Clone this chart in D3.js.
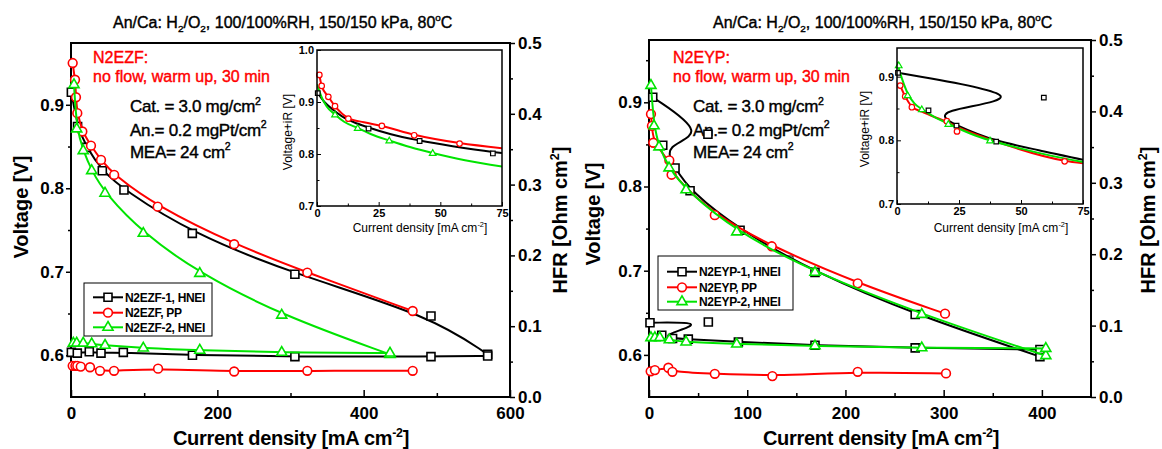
<!DOCTYPE html>
<html>
<head>
<meta charset="utf-8">
<script src="https://d3js.org/d3.v7.min.js"></script>
<style>
body { margin:0; background:#fff; }
svg { font-family: "Liberation Sans", Arial, sans-serif; }
.heavy { stroke-width: 0.4px; }
</style>
</head>
<body>
<script>

// ---- N2EZF (left) : [current mA/cm2, value]
var ezf1Pol = [[0.5,0.915],[9,0.874],[21,0.849],[42.8,0.821],[72.4,0.798],[165.8,0.746],[306,0.697],[492,0.647],[569.5,0.601]];
var ezf1Hfr = [[0.5,0.063],[8.6,0.062],[25,0.064],[41,0.062],[71.5,0.063],[166,0.059],[306,0.057],[492,0.057],[569.5,0.058]];
var ezfPpPol = [[2.3,0.950],[5.5,0.930],[6.8,0.909],[8.6,0.890],[15.5,0.868],[27.3,0.851],[41,0.834],[59,0.816],[118.5,0.778],[223,0.733],[323,0.699],[467,0.653]];
var ezfPpHfr = [[2.3,0.044],[6,0.044],[8.6,0.044],[13.3,0.043],[26,0.042],[39.6,0.037],[58.8,0.037],[119,0.040],[223,0.036],[323,0.037],[467,0.037]];
var ezf2Pol = [[4.1,0.924],[7.8,0.871],[16.7,0.845],[28.3,0.821],[46.5,0.794],[98.8,0.746],[176,0.698],[288,0.648],[436,0.601]];
var ezf2Hfr = [[3.2,0.076],[7.8,0.076],[16.7,0.076],[28.3,0.075],[46.5,0.073],[98.8,0.069],[176,0.066],[288,0.063],[436,0.062]];

// inset (Voltage+iR)
var ezf1Inset = [[0.3,0.917],[20.9,0.849],[41.6,0.825],[71.3,0.801]];
var ezfPpInset = [[0.95,0.952],[1.9,0.931],[4.6,0.910],[7.3,0.892],[12.7,0.868],[26.3,0.854],[39.4,0.836],[57.8,0.820]];
var ezf2Inset = [[7.3,0.875],[16.5,0.849],[29.3,0.825],[46.9,0.801]];
var ezf1InsetLine = [[0,0.919],[3,0.900],[6,0.887],[10,0.873],[15,0.861],[20.9,0.851],[30,0.838],[41.6,0.826],[55,0.815],[71.3,0.804],[75,0.802]];
var ezfPpInsetLine = [[0.95,0.952],[1.9,0.931],[4.6,0.910],[7.3,0.892],[12.7,0.869],[19,0.861],[26.3,0.854],[39.4,0.837],[57.8,0.821],[75,0.811]];
var ezf2InsetLine = [[0,0.934],[2,0.908],[4,0.891],[7.3,0.876],[11,0.862],[16.5,0.850],[22,0.838],[29.3,0.826],[38,0.813],[46.9,0.802],[60,0.788],[75,0.776]];

// ---- N2EYP (right)
var eyp1Pol = [[3.8,0.906],[60,0.862],[14,0.849],[26.5,0.822],[41.8,0.795],[92.7,0.748],[169,0.698],[271,0.648],[398,0.598]];
var eyp1Hfr = [[1,0.104],[60.4,0.105],[13,0.0865],[24,0.082],[40,0.081],[91,0.077],[169,0.0725],[271,0.0688],[398,0.0665]];
var eypPpPol = [[2,0.886],[3,0.872],[4.4,0.852],[20.7,0.831],[23,0.814],[67,0.766],[125,0.729],[212.5,0.685],[301.4,0.649]];
var eypPpHfr = [[1.7,0.036],[6,0.0377],[19.7,0.041],[23.8,0.0353],[67,0.0325],[125.6,0.0293],[212.5,0.0353],[302.4,0.033]];
var eyp2Pol = [[2,0.920],[5.1,0.872],[10.2,0.847],[20.4,0.822],[37.7,0.796],[89.3,0.746],[169,0.698],[277.7,0.648],[404,0.599]];
var eyp2Hfr = [[2,0.083],[6,0.083],[11,0.083],[20.7,0.080],[37.7,0.077],[89.3,0.074],[169,0.0716],[277.7,0.0688],[404,0.068]];

var eyp1Inset = [[0.4,0.906],[12.7,0.847],[24,0.823],[40,0.798],[59.2,0.867]];
var eypPpInset = [[1.3,0.886],[3.3,0.869],[6,0.852],[20.1,0.830],[24.2,0.814],[67.6,0.767]];
var eyp2Inset = [[0.7,0.917],[4.3,0.870],[10,0.848],[20.7,0.825],[37.5,0.799]];
var eyp1InsetLine = [[0.4,0.906],[59.2,0.867],[12.7,0.847],[24,0.823],[40,0.798],[57,0.785],[75,0.769],[95,0.755]];
var eypPpInsetLine = [[1.3,0.886],[3.3,0.869],[6,0.853],[10,0.845],[20,0.829],[25,0.820],[40,0.798],[67.6,0.768],[75,0.764]];
var eyp2InsetLine = [[0,0.923],[2,0.897],[4.3,0.874],[7,0.858],[10,0.849],[15,0.837],[20.7,0.826],[30,0.810],[37.5,0.800],[50,0.787],[62,0.776],[75,0.766]];

// labels / ticks
var leftLegend = ["N2EZF-1, HNEI", "N2EZF, PP", "N2EZF-2, HNEI"];
var rightLegend = ["N2EYP-1, HNEI", "N2EYP, PP", "N2EYP-2, HNEI"];
var voltTicks = [0.6, 0.7, 0.8, 0.9];
var voltMinor = [0.65, 0.75, 0.85, 0.95];
var hfrTicks = [0, 0.1, 0.2, 0.3, 0.4, 0.5];
var hfrMinor = [0.05, 0.15, 0.25, 0.35, 0.45];
var insetXTicks = [0, 25, 50, 75];
var insetXMinor = [12.5, 37.5, 62.5];

var black = "#000", red = "#ff0000", green = "#00e400";

var svg = d3.select("body").append("svg")
    .attr("width", 1162)
    .attr("height", 449);

function richText(g, x, y, parts, size) {
    var t = g.append("text").attr("x", x).attr("y", y).style("font-size", size + "px");
    var shift = 0;
    parts.forEach(function(p){
        var s = typeof p === "string" ? [p, null] : p;
        var target = s[1] === "sup" ? -0.42 * size : (s[1] === "sub" ? 0.28 * size : 0);
        var ts = t.append("tspan").text(s[0]).attr("dy", target - shift);
        if (s[1]) ts.style("font-size", (size * 0.62) + "px");
        shift = target;
    });
    return t;
}

// regular text drawn a bit heavier, like the scanned original
function heavy(t, color) {
    return t.attr("fill", color).attr("stroke", color).attr("class", "heavy");
}

function styleAxis(sel, size, weight) {
    sel.attr("font-family", null).attr("font-size", null);
    sel.select(".domain").remove();
    sel.selectAll("line").attr("stroke", "#000").attr("stroke-width", 1.5);
    sel.selectAll("text").attr("fill", "#000")
        .style("font-size", size + "px")
        .style("font-weight", weight);
}

function marker(g, data, xs, ys, shape, color, size) {
    var sym = d3.symbol().type(shape).size(size);
    g.selectAll(null).data(data).enter().append("path")
        .attr("d", sym)
        .attr("transform", function(d){ return "translate(" + xs(d[0]) + "," + ys(d[1]) + ")"; })
        .attr("fill", "#fff")
        .attr("stroke", color)
        .attr("stroke-width", 1.6);
}

function curve(g, data, xs, ys, color, kind, width) {
    var line = d3.line()
        .x(function(d){ return xs(d[0]); })
        .y(function(d){ return ys(d[1]); })
        .curve(kind);
    g.append("path").datum(data)
        .attr("d", line)
        .attr("fill", "none")
        .attr("stroke", color)
        .attr("stroke-width", width);
}

function drawPanel(p, idx) {
    var g = svg.append("g");
    var x = d3.scaleLinear().domain([0, p.xMax]).range([p.left, p.right]);
    var yV = d3.scaleLinear().domain([0.55, 0.974]).range([p.bottom, p.top]);
    var yR = d3.scaleLinear().domain([0, 0.5]).range([p.bottom, p.top]);

    // title
    heavy(richText(g, p.titleX, 28, ["An/Ca: H", ["2","sub"], "/O", ["2","sub"], ", 100/100%RH, 150/150 kPa, 80", ["o","sup"], "C"], 16), "#000");

    // axes
    g.append("g").attr("transform", "translate(0," + p.bottom + ")")
        .call(d3.axisBottom(x).tickValues(p.xMinor).tickSizeInner(-4).tickSizeOuter(0).tickFormat(""))
        .call(styleAxis, 17, "bold");
    g.append("g").attr("transform", "translate(0," + p.bottom + ")")
        .call(d3.axisBottom(x).tickValues(p.xMajor).tickSizeInner(-7).tickSizeOuter(0).tickPadding(10).tickFormat(d3.format("d")))
        .call(styleAxis, 17, "bold");
    g.append("g").attr("transform", "translate(" + p.left + ",0)")
        .call(d3.axisLeft(yV).tickValues(voltMinor).tickSizeInner(3).tickSizeOuter(0).tickFormat(""))
        .call(styleAxis, 17, "bold");
    g.append("g").attr("transform", "translate(" + p.left + ",0)")
        .call(d3.axisLeft(yV).tickValues(voltTicks).tickSizeInner(5).tickSizeOuter(0).tickPadding(2).tickFormat(d3.format(".1f")))
        .call(styleAxis, 17, "bold");
    g.append("g").attr("transform", "translate(" + p.right + ",0)")
        .call(d3.axisRight(yR).tickValues(hfrMinor).tickSizeInner(3).tickSizeOuter(0).tickFormat(""))
        .call(styleAxis, 17, "bold");
    g.append("g").attr("transform", "translate(" + p.right + ",0)")
        .call(d3.axisRight(yR).tickValues(hfrTicks).tickSizeInner(5).tickSizeOuter(0).tickPadding(3).tickFormat(d3.format(".1f")))
        .call(styleAxis, 17, "bold");

    g.append("rect")
        .attr("x", p.left).attr("y", p.top)
        .attr("width", p.right - p.left).attr("height", p.bottom - p.top)
        .attr("fill", "none").attr("stroke", "#000").attr("stroke-width", 2);

    // axis titles
    richText(g, 0, 0, ["Voltage [V]"], 20)
        .attr("transform", "translate(" + p.vLabelX + "," + p.vLabelY + ") rotate(-90)")
        .attr("text-anchor", "middle").style("font-weight", "bold");
    richText(g, 0, 0, ["HFR [Ohm cm", ["2","sup"], "]"], 20)
        .attr("transform", "translate(" + p.rLabelX + ",220) rotate(-90)")
        .attr("text-anchor", "middle").style("font-weight", "bold");
    richText(g, p.xLabelX, 445, ["Current density [mA cm", ["-2","sup"], "]"], 20)
        .attr("text-anchor", "middle").style("font-weight", "bold").style("letter-spacing", "-0.3px");

    // annotation
    heavy(richText(g, p.noteX, 63, [p.name + ":"], 16), red);
    heavy(richText(g, p.noteX, 82, ["no flow, warm up, 30 min"], 16), red);
    heavy(richText(g, p.catX, 112, ["Cat. = 3.0 mg/cm", ["2","sup"]], 17), "#000").style("letter-spacing", "-0.3px");
    heavy(richText(g, p.catX, 135.5, ["An.= 0.2 mgPt/cm", ["2","sup"]], 17), "#000").style("letter-spacing", "-0.3px");
    heavy(richText(g, p.catX, 157.5, ["MEA= 24 cm", ["2","sup"]], 17), "#000").style("letter-spacing", "-0.3px");

    // legend
    var lg = g.append("g");
    lg.append("rect")
        .attr("x", p.legend.x).attr("y", p.legend.y)
        .attr("width", p.legend.w).attr("height", p.legend.h)
        .attr("fill", "#fff").attr("stroke", "#000").attr("stroke-width", 1);

    // data
    var shapes = [d3.symbolSquare, d3.symbolCircle, d3.symbolTriangle];
    var sizes = [64, 60, 44];
    var insetSizes = [21, 24, 19];
    var colors = [black, red, green];

    p.series.forEach(function(s, i){
        curve(g, s.pol, x, yV, colors[i], d3.curveBasis, 2);
        curve(g, s.hfr, x, yR, colors[i], d3.curveBasis, 2);
        marker(g, s.pol, x, yV, shapes[i], colors[i], sizes[i]);
        marker(g, s.hfr, x, yR, shapes[i], colors[i], sizes[i]);

        var ly = p.legend.rows[i];
        lg.append("line")
            .attr("x1", p.legend.x + 9).attr("x2", p.legend.x + 39)
            .attr("y1", ly).attr("y2", ly)
            .attr("stroke", colors[i]).attr("stroke-width", 2);
        marker(lg, [[0, 0]], function(){ return p.legend.x + 24; }, function(){ return ly; }, shapes[i], colors[i], sizes[i]);
        lg.append("text")
            .attr("x", p.legend.x + 41).attr("y", ly + 4.5)
            .style("font-size", "12px").style("font-weight", "bold")
            .style("letter-spacing", "-0.3px")
            .text(p.legendText[i]);
    });

    // inset
    var ins = p.inset;
    var ig = g.append("g");
    var ix = d3.scaleLinear().domain([0, 75]).range([ins.left, ins.right]);
    var iy = d3.scaleLinear().domain([0.7, ins.yMax]).range([ins.bottom, ins.top]);

    ig.append("rect")
        .attr("x", ins.left).attr("y", ins.top)
        .attr("width", ins.right - ins.left).attr("height", ins.bottom - ins.top)
        .attr("fill", "#fff");

    ig.append("clipPath").attr("id", "clipInset" + idx)
        .append("rect")
        .attr("x", ins.left).attr("y", ins.top)
        .attr("width", ins.right - ins.left).attr("height", ins.bottom - ins.top);

    ig.append("g").attr("transform", "translate(0," + ins.bottom + ")")
        .call(d3.axisBottom(ix).tickValues(insetXMinor).tickSizeInner(-2.5).tickSizeOuter(0).tickFormat(""))
        .call(styleAxis, 11, "bold");
    ig.append("g").attr("transform", "translate(0," + ins.bottom + ")")
        .call(d3.axisBottom(ix).tickValues(insetXTicks).tickSizeInner(-4).tickSizeOuter(0).tickPadding(3).tickFormat(d3.format("d")))
        .call(styleAxis, 11, "bold");
    ig.append("g").attr("transform", "translate(" + ins.left + ",0)")
        .call(d3.axisLeft(iy).tickValues(ins.yMinor).tickSizeInner(-2.5).tickSizeOuter(0).tickFormat(""))
        .call(styleAxis, 11, "bold");
    ig.append("g").attr("transform", "translate(" + ins.left + ",0)")
        .call(d3.axisLeft(iy).tickValues(ins.yTicks).tickSizeInner(-4).tickSizeOuter(0).tickPadding(3).tickFormat(d3.format(".1f")))
        .call(styleAxis, 11, "bold");
    ig.selectAll("line").attr("stroke-width", 1);

    var clipped = ig.append("g").attr("clip-path", "url(#clipInset" + idx + ")");
    p.series.forEach(function(s, i){
        curve(clipped, s.insetLine, ix, iy, colors[i], s.insetCurve, 2);
    });
    p.series.forEach(function(s, i){
        marker(ig, s.inset, ix, iy, shapes[i], colors[i], insetSizes[i]);
    });
    ig.selectAll("path").filter(function(){ return d3.select(this).attr("fill") === "#fff"; })
        .attr("stroke-width", 1.2);

    ig.append("rect")
        .attr("x", ins.left).attr("y", ins.top)
        .attr("width", ins.right - ins.left).attr("height", ins.bottom - ins.top)
        .attr("fill", "none").attr("stroke", "#000").attr("stroke-width", 1.5);

    richText(ig, 0, 0, ["Voltage+iR [V]"], 12)
        .attr("transform", "translate(" + ins.yLabelX + "," + ins.yLabelY + ") rotate(-90)")
        .attr("text-anchor", "middle");
    richText(ig, ins.xLabelX, 232, ["Current density [mA cm", ["-2","sup"], "]"], 12)
        .attr("text-anchor", "middle");
}

drawPanel({
    name: "N2EZF", left: 71, right: 510, top: 43, bottom: 397,
    xMax: 600, xMajor: [0, 200, 400, 600], xMinor: [100, 300, 500],
    titleX: 113, noteX: 93, catX: 130,
    vLabelX: 28, vLabelY: 207, rLabelX: 567, xLabelX: 291,
    legendText: leftLegend,
    legend: {x: 84, y: 283, w: 128, h: 53, rows: [297.3, 312.7, 327.3]},
    inset: {left: 317, right: 502, top: 50, bottom: 206, yMax: 1.0,
            yTicks: [0.7, 0.8, 0.9, 1.0], yMinor: [0.75, 0.85, 0.95],
            yLabelX: 292, yLabelY: 132, xLabelX: 420},
    series: [
        {pol: ezf1Pol, hfr: ezf1Hfr, inset: ezf1Inset, insetLine: ezf1InsetLine, insetCurve: d3.curveMonotoneX},
        {pol: ezfPpPol, hfr: ezfPpHfr, inset: ezfPpInset, insetLine: ezfPpInsetLine, insetCurve: d3.curveMonotoneX},
        {pol: ezf2Pol, hfr: ezf2Hfr, inset: ezf2Inset, insetLine: ezf2InsetLine, insetCurve: d3.curveMonotoneX}
    ]
}, 0);

drawPanel({
    name: "N2EYP", left: 649, right: 1091, top: 40, bottom: 397,
    xMax: 450, xMajor: [0, 100, 200, 300, 400], xMinor: [50, 150, 250, 350],
    titleX: 713, noteX: 673, catX: 693,
    vLabelX: 600, vLabelY: 214, rLabelX: 1155, xLabelX: 881,
    legendText: rightLegend,
    legend: {x: 658, y: 256, w: 135, h: 54, rows: [271.7, 287.3, 301.7]},
    inset: {left: 897, right: 1083, top: 48, bottom: 204, yMax: 0.945,
            yTicks: [0.7, 0.8, 0.9], yMinor: [0.75, 0.85],
            yLabelX: 869, yLabelY: 129, xLabelX: 1001},
    series: [
        {pol: eyp1Pol, hfr: eyp1Hfr, inset: eyp1Inset, insetLine: eyp1InsetLine, insetCurve: d3.curveBasis},
        {pol: eypPpPol, hfr: eypPpHfr, inset: eypPpInset, insetLine: eypPpInsetLine, insetCurve: d3.curveMonotoneX},
        {pol: eyp2Pol, hfr: eyp2Hfr, inset: eyp2Inset, insetLine: eyp2InsetLine, insetCurve: d3.curveMonotoneX}
    ]
}, 1);

</script>
</body>
</html>
